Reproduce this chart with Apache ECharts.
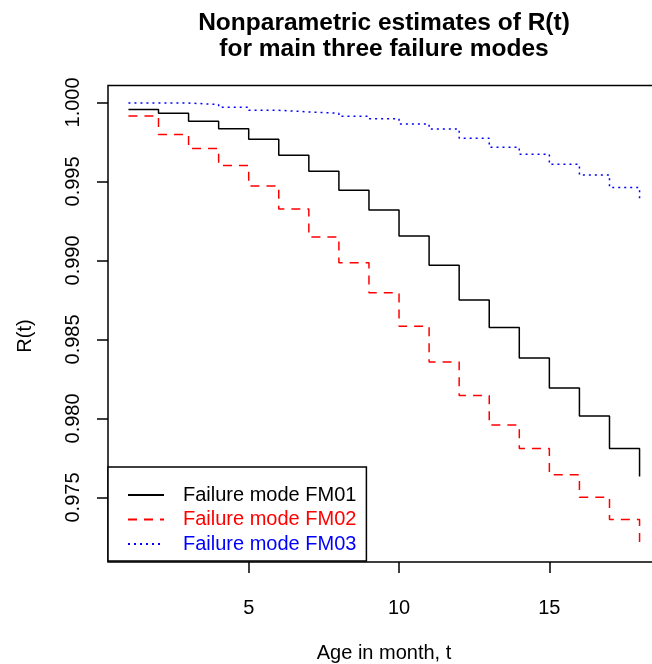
<!DOCTYPE html>
<html><head><meta charset="utf-8">
<script src="https://cdn.jsdelivr.net/npm/echarts@6/dist/echarts.min.js"></script>
<style>html,body{margin:0;padding:0;background:#fff}#c{width:652px;height:664px}</style>
</head><body><div id="c"></div>
<script>
const months = [1,2,3,4,5,6,7,8,9,10,11,12,13,14,15,16,17,18];
const fm01 = [0.99955,0.99931,0.99881,0.99834,0.99767,0.99666,0.99565,0.99444,0.99319,0.99154,0.98970,0.98750,0.98575,0.98383,0.98192,0.98015,0.97810,0.97633];
const fm02 = [0.99914,0.99797,0.99709,0.99601,0.99471,0.99325,0.99148,0.98985,0.98796,0.98583,0.98358,0.98146,0.97958,0.97810,0.97644,0.97502,0.97360,0.97204];
const fm03 = [0.99996,0.99996,0.99987,0.99970,0.99950,0.99940,0.99931,0.99912,0.99897,0.99864,0.99832,0.99774,0.99716,0.99672,0.99608,0.99541,0.99461,0.99373];
const seriesNames = ['Failure mode FM01','Failure mode FM02','Failure mode FM03'];
const xTicks = [5,10,15];
const yTicks = [0.975,0.980,0.985,0.990,0.995,1.000];
const titleLines = ['Nonparametric estimates of R(t)','for main three failure modes'];
const xName = 'Age in month, t';
const yName = 'R(t)';

const FONT = '"Liberation Sans", Arial, sans-serif';
const all = fm01.concat(fm02, fm03);
const dMin = Math.min(...all), dMax = Math.max(...all);
const yPad = (dMax - dMin) * 0.04;
const xPad = (months[months.length - 1] - months[0]) * 0.04;

function pts(arr) { return months.map((m, i) => [m, arr[i]]); }

const chart = echarts.init(document.getElementById('c'), null, {renderer: 'canvas'});
chart.setOption({
  animation: false,
  backgroundColor: '#ffffff',
  graphic: [
    {type: 'text', x: 384, y: 23, style: {text: titleLines[0], textAlign: 'center', textVerticalAlign: 'middle', font: 'bold 24.5px ' + FONT, fill: '#000'}},
    {type: 'text', x: 384, y: 49, style: {text: titleLines[1], textAlign: 'center', textVerticalAlign: 'middle', font: 'bold 24.5px ' + FONT, fill: '#000'}},
    {type: 'text', x: 25, y: 336, rotation: Math.PI / 2, style: {text: yName, textAlign: 'center', textVerticalAlign: 'middle', font: '20px ' + FONT, fill: '#000'}}
  ],
  grid: {left: 108, top: 85.4, width: 552, height: 476.5, outerBoundsMode: 'none', containLabel: false, show: true, borderColor: '#000', borderWidth: 1.5, backgroundColor: 'transparent'},
  legend: {
    orient: 'vertical', left: 108, top: 467,
    itemWidth: 36, itemHeight: 14, itemGap: 4.5,
    padding: [18, 10, 7, 19],
    borderColor: '#000', borderWidth: 1.5, backgroundColor: '#fff',
    itemStyle: {opacity: 0},
    textStyle: {fontSize: 20, fontFamily: FONT, lineHeight: 20, padding: [0, 0, 0, 14]},
    data: [
      {name: seriesNames[0], textStyle: {color: '#000000'}},
      {name: seriesNames[1], textStyle: {color: '#ff0000'}},
      {name: seriesNames[2], textStyle: {color: '#0000ff'}}
    ]
  },
  xAxis: {
    type: 'value', min: months[0] - xPad, max: months[months.length - 1] + xPad,
    axisLine: {show: false}, splitLine: {show: false},
    axisTick: {show: true, customValues: xTicks, length: 11, lineStyle: {color: '#000', width: 1.5}},
    axisLabel: {customValues: xTicks, margin: 37, fontSize: 20, fontFamily: FONT, color: '#000'},
    name: xName, nameLocation: 'middle', nameGap: 82,
    nameTextStyle: {fontSize: 20, fontFamily: FONT, color: '#000'}
  },
  yAxis: {
    type: 'value', min: dMin - yPad, max: dMax + yPad,
    axisLine: {show: false}, splitLine: {show: false},
    axisTick: {show: true, customValues: yTicks, length: 11, lineStyle: {color: '#000', width: 1.5}},
    axisLabel: {customValues: yTicks, rotate: 90, margin: 25, fontSize: 20, fontFamily: FONT, color: '#000', formatter: v => v.toFixed(3)}
  },
  series: [
    {name: seriesNames[0], type: 'line', step: 'end', symbol: 'none', data: pts(fm01), color: '#000000', lineStyle: {color: '#000000', width: 1.5, type: 'solid'}},
    {name: seriesNames[1], type: 'line', step: 'end', symbol: 'none', data: pts(fm02), color: '#ff0000', lineStyle: {color: '#ff0000', width: 1.5, type: [9, 7]}},
    {name: seriesNames[2], type: 'line', step: 'end', symbol: 'none', data: pts(fm03), color: '#0000ff', lineStyle: {color: '#0000ff', width: 1.5, type: [2, 4]}}
  ]
});
</script></body></html>
